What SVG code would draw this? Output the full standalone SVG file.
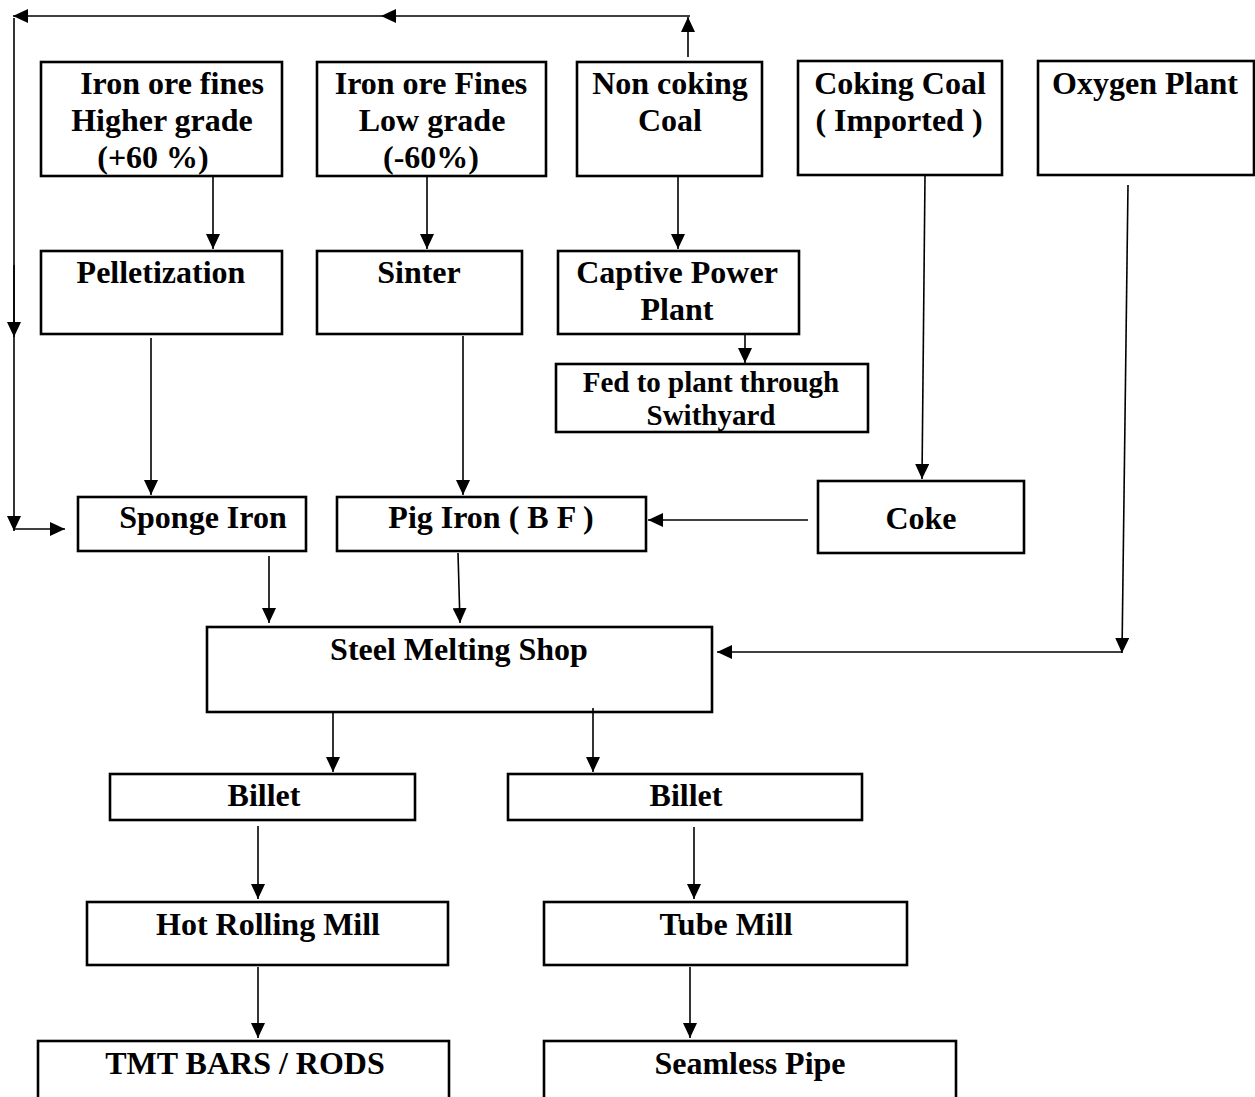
<svg xmlns="http://www.w3.org/2000/svg" width="1255" height="1097" viewBox="0 0 1255 1097">
  <style>
    .box { fill: #ffffff; stroke: #000000; stroke-width: 2.6; }
    .lbl { font-family: "Liberation Serif", "Times New Roman", serif; font-weight: bold; font-size: 32px; fill: #000000; text-anchor: middle; }
    .sm { font-size: 29px; }
    .wire { fill: none; stroke: #000000; stroke-width: 1.6; }
  </style>
  <defs>
    <marker id="arrow" viewBox="0 0 15 14" refX="15" refY="7" markerWidth="15" markerHeight="14" markerUnits="userSpaceOnUse" orient="auto">
      <path d="M0,0 L15,7 L0,14 Z" fill="#000000"/>
    </marker>
  </defs>
  <rect width="1255" height="1097" fill="#ffffff"/>

  <!-- raw materials -->
  <g id="ore-high">
    <rect class="box" x="41" y="62" width="241" height="114"/>
    <text class="lbl" x="172" y="94">Iron ore fines</text>
    <text class="lbl" x="162" y="131">Higher grade</text>
    <text class="lbl" x="153" y="168">(+60 %)</text>
  </g>
  <g id="ore-low">
    <rect class="box" x="317" y="62" width="229" height="114"/>
    <text class="lbl" x="431" y="94">Iron ore Fines</text>
    <text class="lbl" x="432" y="131">Low grade</text>
    <text class="lbl" x="431" y="168">(-60%)</text>
  </g>
  <g id="non-coking-coal">
    <rect class="box" x="577" y="62" width="185" height="114"/>
    <text class="lbl" x="670" y="94">Non coking</text>
    <text class="lbl" x="670" y="131">Coal</text>
  </g>
  <g id="coking-coal">
    <rect class="box" x="798" y="61" width="204" height="114"/>
    <text class="lbl" x="900" y="94">Coking Coal</text>
    <text class="lbl" x="899" y="131">( Imported )</text>
  </g>
  <g id="oxygen-plant">
    <rect class="box" x="1038" y="61" width="216" height="114"/>
    <text class="lbl" x="1145" y="94">Oxygen Plant</text>
  </g>

  <!-- preparation -->
  <g id="pelletization">
    <rect class="box" x="41" y="251" width="241" height="83"/>
    <text class="lbl" x="161" y="283">Pelletization</text>
  </g>
  <g id="sinter">
    <rect class="box" x="317" y="251" width="205" height="83"/>
    <text class="lbl" x="419" y="283">Sinter</text>
  </g>
  <g id="captive-power-plant">
    <rect class="box" x="558" y="251" width="241" height="83"/>
    <text class="lbl" x="677" y="283">Captive Power</text>
    <text class="lbl" x="677" y="320">Plant</text>
  </g>
  <g id="switchyard">
    <rect class="box" x="556" y="364" width="312" height="68"/>
    <text class="lbl sm" x="711" y="392">Fed to plant through</text>
    <text class="lbl sm" x="711" y="425">Swithyard</text>
  </g>

  <!-- iron making -->
  <g id="sponge-iron">
    <rect class="box" x="78" y="497" width="228" height="54"/>
    <text class="lbl" x="203" y="528">Sponge Iron</text>
  </g>
  <g id="pig-iron">
    <rect class="box" x="337" y="497" width="309" height="54"/>
    <text class="lbl" x="491" y="528">Pig Iron ( B F )</text>
  </g>
  <g id="coke">
    <rect class="box" x="818" y="481" width="206" height="72"/>
    <text class="lbl" x="921" y="529">Coke</text>
  </g>

  <!-- steel making and rolling -->
  <g id="steel-melting-shop">
    <rect class="box" x="207" y="627" width="505" height="85"/>
    <text class="lbl" x="459" y="660">Steel Melting Shop</text>
  </g>
  <g id="billet-left">
    <rect class="box" x="110" y="774" width="305" height="46"/>
    <text class="lbl" x="264" y="806">Billet</text>
  </g>
  <g id="billet-right">
    <rect class="box" x="508" y="774" width="354" height="46"/>
    <text class="lbl" x="686" y="806">Billet</text>
  </g>
  <g id="hot-rolling-mill">
    <rect class="box" x="87" y="902" width="361" height="63"/>
    <text class="lbl" x="268" y="935">Hot Rolling Mill</text>
  </g>
  <g id="tube-mill">
    <rect class="box" x="544" y="902" width="363" height="63"/>
    <text class="lbl" x="726" y="935">Tube Mill</text>
  </g>
  <g id="tmt-bars">
    <rect class="box" x="38" y="1041" width="411" height="80"/>
    <text class="lbl" x="245" y="1074">TMT BARS / RODS</text>
  </g>
  <g id="seamless-pipe">
    <rect class="box" x="544" y="1041" width="412" height="80"/>
    <text class="lbl" x="750" y="1074">Seamless Pipe</text>
  </g>

  <!-- connectors -->
  <g id="connectors">
    <!-- coal return loop over the top and down the left side -->
    <line class="wire" x1="688" y1="57" x2="688" y2="17" marker-end="url(#arrow)"/>
    <line class="wire" x1="690" y1="16" x2="437" y2="16"/>
    <line class="wire" x1="437" y1="16" x2="381" y2="16" marker-end="url(#arrow)"/>
    <line class="wire" x1="381" y1="16" x2="13" y2="16" marker-end="url(#arrow)"/>
    <line class="wire" x1="14" y1="18" x2="14" y2="337" marker-end="url(#arrow)"/>
    <line class="wire" x1="14" y1="265" x2="14" y2="531" marker-end="url(#arrow)"/>
    <line class="wire" x1="14" y1="529" x2="65" y2="529" marker-end="url(#arrow)"/>

    <!-- raw materials to preparation -->
    <line class="wire" x1="213" y1="177" x2="213" y2="249" marker-end="url(#arrow)"/>
    <line class="wire" x1="427" y1="177" x2="427" y2="249" marker-end="url(#arrow)"/>
    <line class="wire" x1="678" y1="177" x2="678" y2="249" marker-end="url(#arrow)"/>
    <line class="wire" x1="745" y1="335" x2="745" y2="363" marker-end="url(#arrow)"/>
    <line class="wire" x1="925" y1="176" x2="922" y2="479" marker-end="url(#arrow)"/>

    <!-- preparation to iron making -->
    <line class="wire" x1="151" y1="338" x2="151" y2="495" marker-end="url(#arrow)"/>
    <line class="wire" x1="463" y1="336" x2="463" y2="495" marker-end="url(#arrow)"/>
    <line class="wire" x1="808" y1="520" x2="648" y2="520" marker-end="url(#arrow)"/>

    <!-- oxygen to the melting shop -->
    <line class="wire" x1="1128" y1="185" x2="1122" y2="653" marker-end="url(#arrow)"/>
    <line class="wire" x1="1122" y1="652" x2="717" y2="652" marker-end="url(#arrow)"/>

    <!-- iron to steel -->
    <line class="wire" x1="269" y1="556" x2="269" y2="623" marker-end="url(#arrow)"/>
    <line class="wire" x1="458" y1="553" x2="460" y2="623" marker-end="url(#arrow)"/>

    <!-- steel to billets and mills -->
    <line class="wire" x1="333" y1="713" x2="333" y2="772" marker-end="url(#arrow)"/>
    <line class="wire" x1="593" y1="708" x2="593" y2="772" marker-end="url(#arrow)"/>
    <line class="wire" x1="258" y1="826" x2="258" y2="899" marker-end="url(#arrow)"/>
    <line class="wire" x1="694" y1="827" x2="694" y2="899" marker-end="url(#arrow)"/>
    <line class="wire" x1="258" y1="967" x2="258" y2="1038" marker-end="url(#arrow)"/>
    <line class="wire" x1="690" y1="967" x2="690" y2="1038" marker-end="url(#arrow)"/>
  </g>
</svg>
